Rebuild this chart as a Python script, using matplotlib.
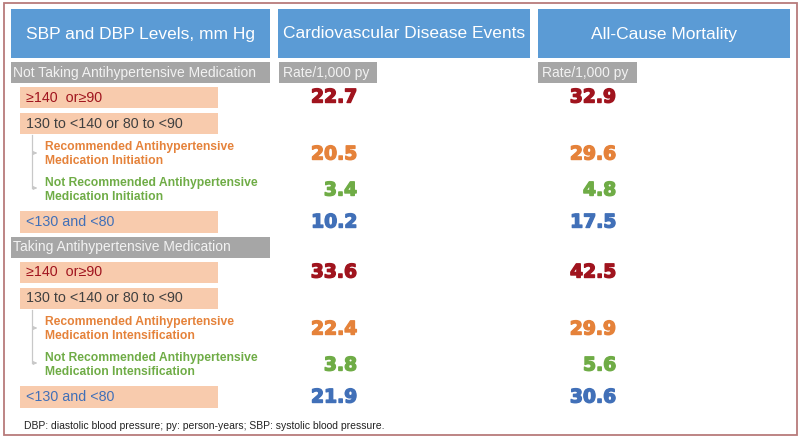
"""Rates of CVD events and all-cause mortality by SBP/DBP level - table figure.

    python plot.py
"""

import matplotlib.patheffects as pe
import matplotlib.pyplot as plt
from matplotlib.patches import Rectangle

HEADERS = ["SBP and DBP Levels, mm Hg", "Cardiovascular Disease Events", "All-Cause Mortality"]
GROUPS = ["Not Taking Antihypertensive Medication", "Taking Antihypertensive Medication"]
RATE_LABEL = "Rate/1,000 py"
LEVELS = ["≥140  or≥90", "130 to <140 or 80 to <90", "<130 and <80"]
SUB_LABELS = [
    ["Recommended Antihypertensive\nMedication Initiation",
     "Not Recommended Antihypertensive\nMedication Initiation"],
    ["Recommended Antihypertensive\nMedication Intensification",
     "Not Recommended Antihypertensive\nMedication Intensification"],
]
# per group: >=140/90, recommended, not recommended, <130/80
CVD_RATES = [[22.7, 20.5, 3.4, 10.2], [33.6, 22.4, 3.8, 21.9]]
MORTALITY_RATES = [[32.9, 29.6, 4.8, 17.5], [42.5, 29.9, 5.6, 30.6]]
FOOTNOTE = "DBP: diastolic blood pressure; py: person-years; SBP: systolic blood pressure."

# palette
BLUE_HEAD = "#5b9bd5"
GRAY_BAR = "#a6a6a6"
SALMON = "#f8cbad"
BORDER = "#b77b7b"
RED = "#a0141e"
ORANGE = "#e5823a"
GREEN = "#6fac46"
BLUE_TXT = "#4170b8"
ROW_COLORS = [RED, ORANGE, GREEN, BLUE_TXT]

FONT = "Liberation Sans"
NUM_FONT = "DejaVu Sans"

# layout (pixel space, y down)
GROUP_TOPS = [62, 237]
COL_X = [(11, 270), (278, 530), (538, 790)]
VALUE_RIGHT = [357, 616]
VALUE_DY = [35, 92, 128, 160]


def box(ax, x0, y0, x1, y1, color):
    ax.add_patch(Rectangle((x0, y0), x1 - x0, y1 - y0, facecolor=color,
                           edgecolor="none", zorder=1))


fig = plt.figure(figsize=(8, 4.4), dpi=100, facecolor="white")
ax = fig.add_axes([0, 0, 1, 1])
ax.set_xlim(0, 800)
ax.set_ylim(440, 0)
ax.axis("off")

# outer frame
ax.add_patch(Rectangle((3.5, 3.5), 793, 432, facecolor="none",
                       edgecolor=BORDER, linewidth=1.3, zorder=3))

# header row
for (x0, x1), title in zip(COL_X, HEADERS):
    box(ax, x0, 9, x1, 58, BLUE_HEAD)
    ax.text((x0 + x1) / 2, 34, title, ha="center", va="center", color="white",
            fontsize=12.5, family=FONT, zorder=2)

for gi, g in enumerate(GROUP_TOPS):
    # group label bar and rate labels
    box(ax, 11, g, 270, g + 21, GRAY_BAR)
    ax.text(13, g + 10.5, GROUPS[gi], ha="left", va="center", color="#f2f2f2",
            fontsize=10, family=FONT, zorder=2)
    if gi == 0:
        for x0, x1 in [(279, 377), (538, 637)]:
            box(ax, x0, g, x1, g + 21, GRAY_BAR)
            ax.text(x0 + 4, g + 10.5, RATE_LABEL, ha="left", va="center",
                    color="#f2f2f2", fontsize=10, family=FONT, zorder=2)

    # salmon level boxes
    for (top, bot), label, color in zip([(g + 25, g + 46), (g + 51, g + 72), (g + 149, g + 171)],
                                        LEVELS, [RED, "#404040", BLUE_TXT]):
        box(ax, 20, top, 218, bot, SALMON)
        ax.text(26, (top + bot) / 2, label, ha="left", va="center", color=color,
                fontsize=10.3, family=FONT, zorder=2)

    # sub-branch tree
    ax.plot([32, 32], [g + 73, g + 126], color="#c8c8c8", lw=0.9, zorder=1)
    for yy in [g + 91, g + 126]:
        ax.annotate("", xy=(40, yy), xytext=(32, yy),
                    arrowprops=dict(arrowstyle="-|>", color="#c8c8c8", lw=0.8,
                                    mutation_scale=5), zorder=1)
    for label, yy, color in zip(SUB_LABELS[gi], [g + 92, g + 128], [ORANGE, GREEN]):
        ax.text(45, yy, label, ha="left", va="center", color=color, fontsize=8.7,
                family=FONT, fontweight="bold", linespacing=1.15, zorder=2)

    # rate values (stroke thickens them toward the heavy poster face)
    for rates, xr in zip([CVD_RATES[gi], MORTALITY_RATES[gi]], VALUE_RIGHT):
        for val, dy, color in zip(rates, VALUE_DY, ROW_COLORS):
            ax.text(xr, g + dy, f"{val:.1f}", ha="right", va="center", color=color,
                    fontsize=13.5, family=NUM_FONT, fontweight="heavy", zorder=2,
                    path_effects=[pe.withStroke(linewidth=1.0, foreground=color)])

ax.text(24, 426, FOOTNOTE, ha="left", va="center", color="#222222", fontsize=7.5,
        family=FONT)

fig.savefig("out.png", dpi=100, facecolor="white")
